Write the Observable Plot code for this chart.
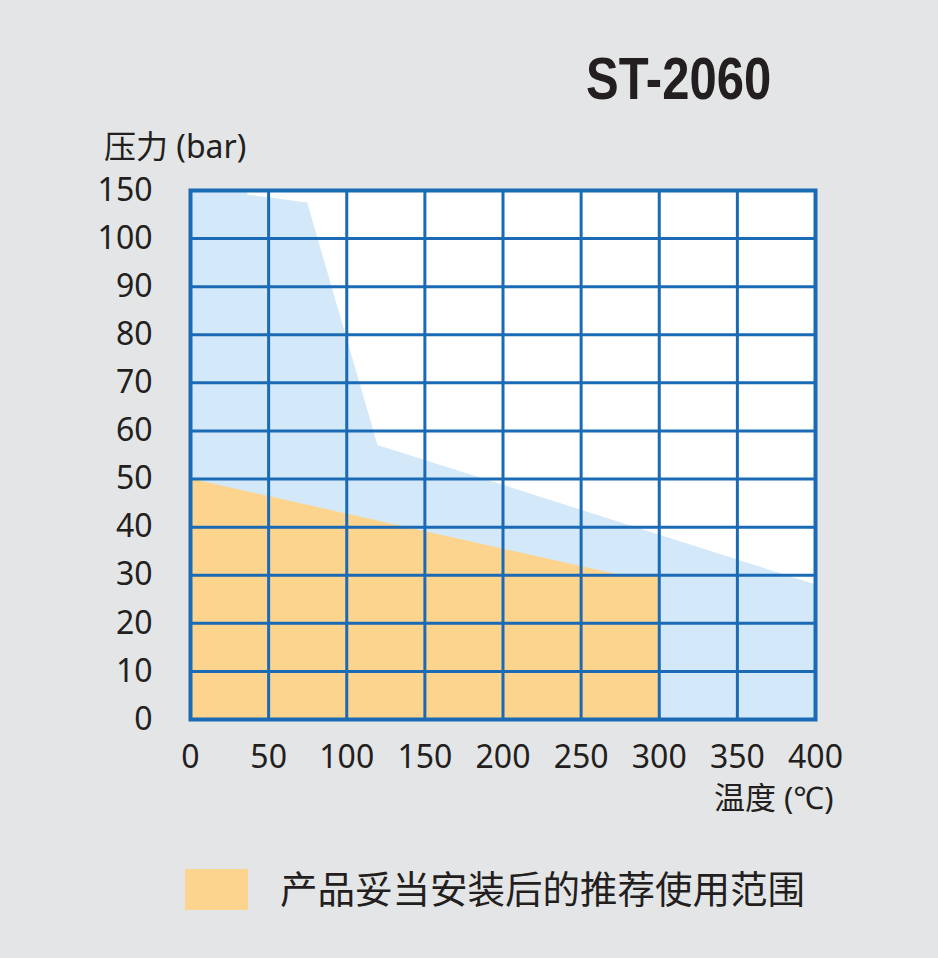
<!DOCTYPE html>
<html><head><meta charset="utf-8">
<script src="https://cdn.jsdelivr.net/npm/d3@7"></script>
<script src="https://cdn.jsdelivr.net/npm/@observablehq/plot@0.6"></script>
<style>
html,body{margin:0;padding:0;background:#e4e5e6;}
#wrap{position:relative;width:938px;height:958px;overflow:hidden;font-family:"Noto Sans","Noto Sans CJK SC",sans-serif;color:#231f20;}
#title{position:absolute;left:586px;top:50px;font-family:"Liberation Sans",Arial,sans-serif;font-weight:bold;font-size:59px;line-height:1;transform:scaleX(0.83);transform-origin:0 0;white-space:nowrap;}
#ylab{position:absolute;left:104px;top:127px;font-size:32px;line-height:1.2;font-family:"Noto Sans","Noto Sans CJK SC",sans-serif;white-space:nowrap;}
#xlab{position:absolute;left:714px;top:779px;font-size:31px;line-height:1.2;font-family:"Noto Sans","Noto Sans CJK SC",sans-serif;white-space:nowrap;}
#chart{position:absolute;left:0;top:120px;}
#sw{position:absolute;left:185px;top:869px;width:63px;height:41px;background:#fcd48e;}
#legtxt{position:absolute;left:280px;top:864px;font-size:37.5px;line-height:1.2;font-family:"Noto Sans CJK SC",sans-serif;white-space:nowrap;}
</style></head>
<body><div id="wrap">
<div id="title"></div>
<div id="ylab"></div>
<div id="chart"></div>
<div id="xlab"></div>
<div id="sw"></div>
<div id="legtxt"></div>
</div>
<script>
const titleText = "ST-2060";
const yLabel = "压力 (bar)";
const xLabel = "温度 (℃)";
const legendLabel = "产品妥当安装后的推荐使用范围";
const xTicks = [0, 50, 100, 150, 200, 250, 300, 350, 400];
const yTicks = [0, 10, 20, 30, 40, 50, 60, 70, 80, 90, 100, 150];
// maximum range (light blue)
const maxTemp = [0, 36, 37, 75, 120, 400];
const maxPress = [150, 150, 145, 137, 57, 28];
// recommended range (orange)
const recTemp = [0, 275, 300];
const recPress = [50, 30, 30];

document.getElementById("title").textContent = titleText;
document.getElementById("ylab").textContent = yLabel;
document.getElementById("xlab").textContent = xLabel;
document.getElementById("legtxt").textContent = legendLabel;

const W = 938, H = 700, mt = 70, mb = 101, ml = 190, mr = 123;
// the axis is broken above 100 bar: the 100–150 span takes one grid row
const breakAt = 100, breakStep = 50;
const yWarp = p => p <= breakAt ? p : breakAt + (p - breakAt) * 10 / breakStep;
const yTicksW = yTicks.map(yWarp);
const maxData = maxTemp.map((t, i) => ({t, p: maxPress[i]}));
const recData = recTemp.map((t, i) => ({t, p: recPress[i]}));
const grid = "#1a6ab5";
const plot = Plot.plot({
  width: W, height: H,
  marginTop: mt, marginBottom: mb, marginLeft: ml, marginRight: mr,
  style: {background: "transparent", color: "#231f20", fontFamily: "'Noto Sans', sans-serif"},
  x: {domain: [0, 400]},
  y: {domain: [0, yWarp(150)]},
  marks: [
    Plot.frame({fill: "white"}),
    Plot.areaY(maxData, {x: "t", y1: 0, y2: d => yWarp(d.p), fill: "#d3e9f9"}),
    Plot.areaY(recData, {x: "t", y1: 0, y2: d => yWarp(d.p), fill: "#fcd48e"}),
    Plot.ruleX(xTicks, {x: d => d, stroke: grid, strokeWidth: 3}),
    Plot.ruleY(yTicksW, {y: d => d, stroke: grid, strokeWidth: 3}),
    Plot.frame({stroke: grid, strokeWidth: 4}),
    Plot.axisY({ticks: yTicksW, tickFormat: v => String(yTicks[yTicksW.indexOf(v)]), tickSize: 0, tickPadding: 38, fontSize: 32, label: null, fill: "#231f20"}),
    Plot.axisX({ticks: xTicks, tickSize: 0, tickPadding: 26, fontSize: 32, label: null, fill: "#231f20"})
  ]
});
document.getElementById("chart").appendChild(plot);
</script>
</body></html>
